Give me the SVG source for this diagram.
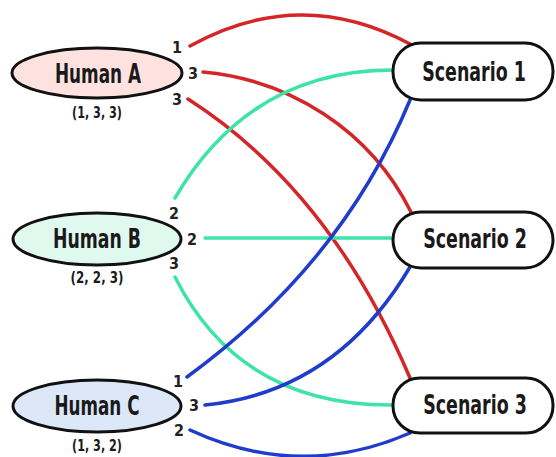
<svg xmlns="http://www.w3.org/2000/svg" width="556" height="457" viewBox="0 0 556 457">
<style>
.c{fill:none;stroke-width:3.5;stroke-linecap:round}
.r{stroke:#d42529}.g{stroke:#3ee3a6}.b{stroke:#1f3ccc}
.h{stroke:#111;stroke-width:3}
.t{font-family:"Liberation Sans Narrow","DejaVu Sans Condensed","Liberation Sans",sans-serif;font-weight:bold;fill:#1a1a1a;text-anchor:middle}
.big{font-size:27px}
.sc{font-size:26px}
.tup{font-size:15px}
.n{font-family:"Liberation Sans Narrow","DejaVu Sans Condensed","Liberation Sans",sans-serif;font-weight:bold;font-size:16px;fill:#222;text-anchor:middle}
</style>
<rect width="556" height="457" fill="#fff"/>
<g id="connectors">
<path class="c r" d="M190,46 Q300,-15 410,44"/>
<path class="c r" d="M203,72 C290,80 370,130 411,212"/>
<path class="c r" d="M188,99 Q330,190 410,378"/>
<path class="c g" d="M175,198 Q250,70 393,70"/>
<path class="c g" d="M205,238 L393,238"/>
<path class="c g" d="M175,277 Q240,406 393,405"/>
<path class="c b" d="M187,377 Q342,264 410,100"/>
<path class="c b" d="M205,405 Q336,392 410,267"/>
<path class="c b" d="M190,430 Q300,481 410,433"/>
<text class="n" x="177" y="53">1</text>
<text class="n" x="193" y="79">3</text>
<text class="n" x="177" y="105">3</text>
<text class="n" x="174" y="219">2</text>
<text class="n" x="192" y="245">2</text>
<text class="n" x="174" y="269">3</text>
<text class="n" x="178" y="387">1</text>
<text class="n" x="194" y="411">3</text>
<text class="n" x="179" y="436">2</text>
</g>
<g id="humanA">
<ellipse class="h" cx="97" cy="73" rx="85" ry="25" fill="#fde2df"/>
<text class="t big" x="98" y="83" textLength="86" lengthAdjust="spacingAndGlyphs">Human A</text>
<text class="t tup" x="97" y="118" textLength="50" lengthAdjust="spacingAndGlyphs">(1, 3, 3)</text>
</g>
<g id="humanB">
<ellipse class="h" cx="97" cy="239" rx="84" ry="26" fill="#e0f9ef"/>
<text class="t big" x="97" y="248" textLength="88" lengthAdjust="spacingAndGlyphs">Human B</text>
<text class="t tup" x="97" y="283" textLength="53" lengthAdjust="spacingAndGlyphs">(2, 2, 3)</text>
</g>
<g id="humanC">
<ellipse class="h" cx="97" cy="406" rx="84" ry="26" fill="#dce8f8"/>
<text class="t big" x="97" y="415" textLength="85" lengthAdjust="spacingAndGlyphs">Human C</text>
<text class="t tup" x="97" y="451" textLength="50" lengthAdjust="spacingAndGlyphs">(1, 3, 2)</text>
</g>
<g id="scenario1">
<rect class="h" x="393" y="43" width="160" height="57" rx="28" fill="#fff"/>
<text class="t sc" transform="translate(474,81) scale(0.72,1)" x="0" y="0" textLength="144" lengthAdjust="spacingAndGlyphs">Scenario 1</text>
</g>
<g id="scenario2">
<rect class="h" x="393" y="212" width="160" height="56" rx="28" fill="#fff"/>
<text class="t sc" transform="translate(475,248) scale(0.72,1)" x="0" y="0" textLength="144" lengthAdjust="spacingAndGlyphs">Scenario 2</text>
</g>
<g id="scenario3">
<rect class="h" x="393" y="378" width="160" height="55" rx="27" fill="#fff"/>
<text class="t sc" transform="translate(475,414) scale(0.72,1)" x="0" y="0" textLength="144" lengthAdjust="spacingAndGlyphs">Scenario 3</text>
</g>
</svg>
